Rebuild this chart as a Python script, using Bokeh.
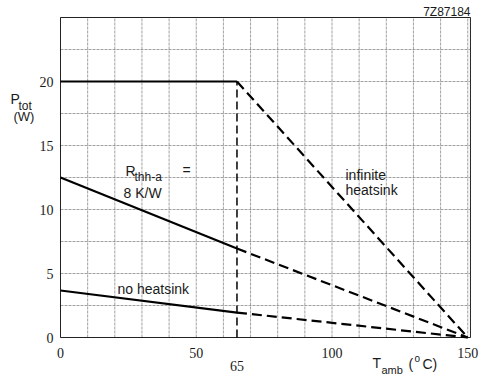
from bokeh.plotting import figure
from bokeh.models import Label, Range1d
from bokeh.embed import file_html
from bokeh.resources import INLINE

# ---- data ----
x_ticks = [0, 50, 100, 150]
y_ticks = [0, 5, 10, 15, 20]
x_grid = [0, 10, 20, 30, 40, 50, 60, 70, 80, 90, 100, 110, 120, 130, 140, 150]
y_grid = [0, 2.5, 5, 7.5, 10, 12.5, 15, 17.5, 20, 22.5, 25]
x_max = 151
y_max = 25

temp = [0, 65, 150]                 # T_amb (degC): start, knee, end
p_infinite = [20, 20, 0]            # infinite heatsink
p_8kw = [12.5, 6.95, 0]             # R_thh-a = 8 K/W
p_none = [3.67, 1.95, 0]            # no heatsink
knee_t = 65
knee_p = 20

# ---- layout: canvas pixel <-> data mapping ----
W, H = 487, 376
X0, XS = 60, 2.715      # px of x=0, px per degC
Y0, YS = 337, 12.8      # px (from top) of y=0, px per W


def fx(px):
    return (px - X0) / XS


def fy(py):
    return (Y0 - py) / YS


FONT = "Liberation Sans"
INK = "#1a1a1a"

p = figure(width=W, height=H, output_backend="svg", toolbar_location=None,
           x_axis_type=None, y_axis_type=None,
           x_range=Range1d(fx(0), fx(W)), y_range=Range1d(fy(H), fy(0)),
           min_border=0)
p.min_border_left = p.min_border_right = p.min_border_top = p.min_border_bottom = 0
p.background_fill_color = "white"
p.border_fill_color = "white"
p.outline_line_color = None

# grid, limited to the chart box
grid_style = dict(line_color="#8a8a8a", line_width=1, line_dash="3 1", line_alpha=0.8)
p.segment(x0=x_grid, y0=[0] * len(x_grid), x1=x_grid, y1=[y_max] * len(x_grid), **grid_style)
p.segment(x0=[0] * len(y_grid), y0=y_grid, x1=[x_max] * len(y_grid), y1=y_grid, **grid_style)

# chart box
p.quad(left=[0], right=[x_max], bottom=[0], top=[y_max], fill_color=None,
       line_color="#222222", line_width=1)

# tick labels
p.text(x=[fx(53)] * len(y_ticks), y=y_ticks, text=[str(v) for v in y_ticks],
       text_font=FONT, text_font_size="14px", text_color=INK,
       text_align="right", text_baseline="middle")
p.text(x=x_ticks, y=[fy(352.5)] * len(x_ticks), text=[str(v) for v in x_ticks],
       text_font=FONT, text_font_size="14px", text_color=INK,
       text_align="center", text_baseline="middle")
p.text(x=[knee_t], y=[fy(365)], text=[str(knee_t)],
       text_font=FONT, text_font_size="14px", text_color=INK,
       text_align="center", text_baseline="middle")

# curves: solid up to knee, dashed beyond
for ys in (p_infinite, p_8kw, p_none):
    p.line(temp[:2], ys[:2], line_color="black", line_width=2.2)
    p.line(temp[1:], ys[1:], line_color="black", line_width=2.2, line_dash="10 5")
p.line([knee_t, knee_t], [0, knee_p], line_color="black", line_width=1.5, line_dash="8 4")


def lab(px, py, t, size="14px", align="left"):
    p.add_layout(Label(x=fx(px), y=fy(py), text=t, text_font=FONT, text_font_size=size,
                       text_color=INK, text_align=align, text_baseline="middle"))


lab(125, 170, "R")
lab(134, 176, "thh-a", size="12px")
lab(182, 169, "=")
lab(123, 192, "8 K/W")
lab(345, 174, "infinite")
lab(345, 189, "heatsink")
lab(117, 288, "no heatsink")
lab(10, 98, "P")
lab(18, 105, "tot", size="12px")
lab(13, 116, "(W)", size="13px")
lab(372, 362, "T")
lab(381, 369, "amb", size="11px")
lab(408, 363, "(")
lab(414, 358, "o", size="10px")
lab(422, 363, "C)")
lab(470, 11, "7Z87184", size="12px", align="right")

open("out.html", "w").write(file_html(p, INLINE))
